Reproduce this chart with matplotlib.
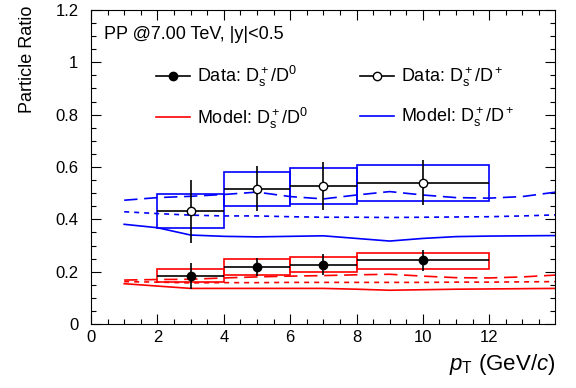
import numpy as np
import matplotlib
matplotlib.use("Agg")
import matplotlib.pyplot as plt
from matplotlib.lines import Line2D
from matplotlib.ticker import MultipleLocator

plt.rc('font', family='Liberation Sans')
plt.rc('mathtext', fontset='custom', rm='Liberation Sans',
       it='Liberation Sans:italic', bf='Liberation Sans:bold')

# data points: Ds/D0
pt = [3, 5, 7, 10]
pt_lo = [2, 4, 6, 8]
pt_hi = [4, 6, 8, 12]
r0 = [0.185, 0.218, 0.227, 0.243]
r0_stat_lo = [0.133, 0.184, 0.187, 0.204]
r0_stat_hi = [0.234, 0.251, 0.267, 0.283]
r0_sys_lo = [0.159, 0.189, 0.199, 0.211]
r0_sys_hi = [0.209, 0.247, 0.256, 0.273]

# data points: Ds/D+
rp = [0.431, 0.516, 0.529, 0.539]
rp_stat_lo = [0.311, 0.430, 0.436, 0.454]
rp_stat_hi = [0.551, 0.602, 0.618, 0.625]
rp_sys_lo = [0.366, 0.451, 0.460, 0.469]
rp_sys_hi = [0.496, 0.581, 0.595, 0.609]

# model curves
mx = [1, 2, 3, 4, 5, 6, 7, 8, 9, 10, 11, 12, 13, 14]
blue_solid = [0.381, 0.368, 0.340, 0.335, 0.333, 0.335, 0.337, 0.327, 0.317, 0.327, 0.334, 0.336, 0.337, 0.338]
blue_ldash = [0.473, 0.483, 0.488, 0.495, 0.504, 0.487, 0.478, 0.493, 0.506, 0.493, 0.483, 0.481, 0.487, 0.504]
blue_sdash = [0.429, 0.422, 0.416, 0.413, 0.413, 0.410, 0.408, 0.408, 0.407, 0.408, 0.409, 0.410, 0.413, 0.417]
red_solid = [0.154, 0.145, 0.136, 0.136, 0.136, 0.136, 0.136, 0.133, 0.129, 0.131, 0.133, 0.134, 0.135, 0.136]
red_ldash = [0.168, 0.170, 0.171, 0.176, 0.180, 0.183, 0.185, 0.188, 0.190, 0.183, 0.177, 0.176, 0.180, 0.187]
red_sdash = [0.162, 0.160, 0.157, 0.158, 0.158, 0.159, 0.159, 0.159, 0.159, 0.159, 0.160, 0.160, 0.161, 0.162]

fig = plt.figure(figsize=(5.76, 3.88), dpi=100)
ax = fig.add_axes([91/576, 64/388, 464/576, 314/388])

lw = 1.2
ax.plot(mx, blue_solid, color='#0000ff', lw=lw)
ax.plot(mx, blue_ldash, color='#0000ff', lw=lw, dashes=(8, 4))
ax.plot(mx, blue_sdash, color='#0000ff', lw=lw, dashes=(3, 3))
ax.plot(mx, red_solid, color='#ff0000', lw=lw)
ax.plot(mx, red_ldash, color='#ff0000', lw=lw, dashes=(8, 4))
ax.plot(mx, red_sdash, color='#ff0000', lw=lw, dashes=(3, 3))

# systematic boxes
for i in range(len(pt)):
    ax.add_patch(plt.Rectangle((pt_lo[i], r0_sys_lo[i]), pt_hi[i]-pt_lo[i],
                               r0_sys_hi[i]-r0_sys_lo[i], fill=False,
                               ec='#ff0000', lw=lw, zorder=3))
    ax.add_patch(plt.Rectangle((pt_lo[i], rp_sys_lo[i]), pt_hi[i]-pt_lo[i],
                               rp_sys_hi[i]-rp_sys_lo[i], fill=False,
                               ec='#0000ff', lw=lw, zorder=3))

pt = np.array(pt)
xerr = [pt - np.array(pt_lo), np.array(pt_hi) - pt]
r0e = [np.array(r0) - np.array(r0_stat_lo), np.array(r0_stat_hi) - np.array(r0)]
rpe = [np.array(rp) - np.array(rp_stat_lo), np.array(rp_stat_hi) - np.array(rp)]
ax.errorbar(pt, r0, xerr=xerr, yerr=r0e, fmt='o', color='k', ms=6,
            elinewidth=1.2, capsize=0, zorder=5)
ax.errorbar(pt, rp, xerr=xerr, yerr=rpe, fmt='o', color='k', mfc='white',
            ms=6, mew=1.0, elinewidth=1.2, capsize=0, zorder=5)

ax.set_xlim(0, 13.98)
ax.set_ylim(0, 1.2)
ax.xaxis.set_major_locator(MultipleLocator(2))
ax.xaxis.set_minor_locator(MultipleLocator(0.5))
ax.yaxis.set_major_locator(MultipleLocator(0.2))
ax.yaxis.set_minor_locator(MultipleLocator(0.05))
ax.set_yticks([0, 0.2, 0.4, 0.6, 0.8, 1.0, 1.2])
ax.set_yticklabels(['0', '0.2', '0.4', '0.6', '0.8', '1', '1.2'])
ax.tick_params(which='both', direction='in', top=True, right=True, labelsize=12)
ax.tick_params(which='major', length=7.5, width=0.8)
ax.tick_params(which='minor', length=3.8, width=0.8)
ax.tick_params(axis='x', pad=4)
ax.tick_params(axis='y', pad=9)

ax.set_ylabel('Particle Ratio', fontsize=13, ha='right')
ax.yaxis.set_label_coords(-0.119, 1.015)
ax.set_xlabel(r'$p_{\mathrm{T}}$ (GeV/$c$)', fontsize=16, ha='right')
ax.xaxis.set_label_coords(1.0, -0.09)

ax.text(0.028, 0.922, 'PP @7.00 TeV, |y|<0.5', transform=ax.transAxes,
        fontsize=13, va='center')

handles = [
    Line2D([], [], color='k', marker='o', ms=6, lw=1.2),
    Line2D([], [], color='#ff0000', lw=1.2),
    Line2D([], [], color='k', marker='o', mfc='white', ms=6, mew=1.0, lw=1.2),
    Line2D([], [], color='#0000ff', lw=1.2),
]
labels = [r'Data: $\mathregular{D_s^+/D^0}$', r'Model: $\mathregular{D_s^+/D^0}$',
          r'Data: $\mathregular{D_s^+/D^+}$', r'Model: $\mathregular{D_s^+/D^+}$']
ax.legend(handles, labels, ncol=2, frameon=False, fontsize=13,
          loc='upper left', bbox_to_anchor=(0.124, 0.85),
          handlelength=1.9, handletextpad=0.4, columnspacing=2.85,
          labelspacing=0.9, borderaxespad=0)

plt.savefig("out.png", dpi=100)
